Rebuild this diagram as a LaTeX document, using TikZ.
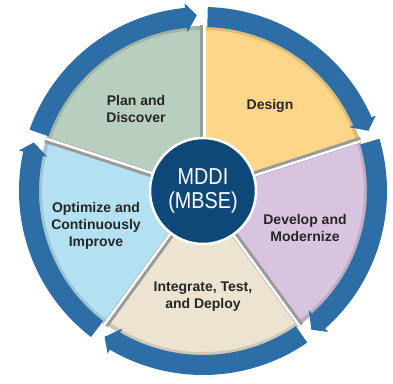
\documentclass[tikz,border=0pt]{standalone}
\usepackage{fontspec}
\setmainfont{Liberation Sans}
\newfontfamily\hubfont[FakeStretch=0.86]{Liberation Sans}
\definecolor{ringblue}{HTML}{2C6EA5}
\definecolor{hubblue}{HTML}{0E4878}
\definecolor{plangreen}{HTML}{B8CFBF}
\definecolor{designyellow}{HTML}{FDD68A}
\definecolor{developlilac}{HTML}{D9C4E0}
\definecolor{integratebeige}{HTML}{ECE4D0}
\definecolor{optimizeblue}{HTML}{B4E1F2}
\definecolor{dividergray}{HTML}{9A9A9A}
\definecolor{labelgray}{HTML}{262626}
\begin{document}
\begin{tikzpicture}[x=1pt,y=1pt,
  seglabel/.style={font=\bfseries\fontsize{14}{17}\selectfont, text=labelgray, align=center, inner sep=0pt},
  hubstyle/.style={circle, fill=hubblue, draw=white, line width=2.5pt, minimum size=106pt, inner sep=0pt,
    text=white, align=center, font=\hubfont\fontsize{23}{24}\selectfont},
  ringarc/.style={fill=ringblue},
  divline/.style={draw=dividergray, line width=6pt},
  divlight/.style={draw=white, line width=2.5pt}]
\fill[white] (0,0) rectangle (393,383);
\useasboundingbox (0,0) rectangle (393,383);
\begin{scope}[shift={(203,192)}]
  % segments
  \foreach \a/\b/\c in {90/162/plangreen, 18/90/designyellow, -54/18/developlilac, -126/-54/integratebeige, 162/234/optimizeblue}
    \fill[\c] (0,0) -- (\a:165) arc[start angle=\a, end angle=\b, radius=165] -- cycle;
  % soft shadow at outer edge
  \draw[black, opacity=0.12, line width=4pt] (0,0) circle[radius=163];
  % dividers
  \foreach \a in {90,18,-54,-126,162}{
    \draw[divline] (\a:52) -- (\a:166);
    \begin{scope}[shift={({\a-90}:1.3)}]
      \draw[divlight] (\a:52) -- (\a:166);
    \end{scope}
  }
  % ring arrows
  \foreach \s/\t in {160.5/92, 88.5/20, 16.5/-52, -55.5/-124, -127.5/-196}{
    \pgfmathsetmacro\h{\t+3.6}
    \fill[ringarc] (\s:184) arc[start angle=\s, end angle=\h, radius=184]
      -- (\h:188.5) -- (\t:176) -- (\h:159.5) -- (\h:164)
      arc[start angle=\h, end angle=\s, radius=164] -- cycle;
  }
  % hub
  \node[hubstyle] (hub) at (0,0) {MDDI\\(MBSE)};
  % labels
  \node[seglabel] (plan) at (-67,82.5) {Plan and\\Discover};
  \node[seglabel] (design) at (67,85) {Design};
  \node[seglabel] (develop) at (102,-37) {Develop and\\Modernize};
  \node[seglabel] (integrate) at (0,-106) {Integrate, Test,\\and Deploy};
  \node[seglabel] (optimize) at (-107,-35) {Optimize and\\Continuously\\Improve};
\end{scope}
\end{tikzpicture}
\end{document}
